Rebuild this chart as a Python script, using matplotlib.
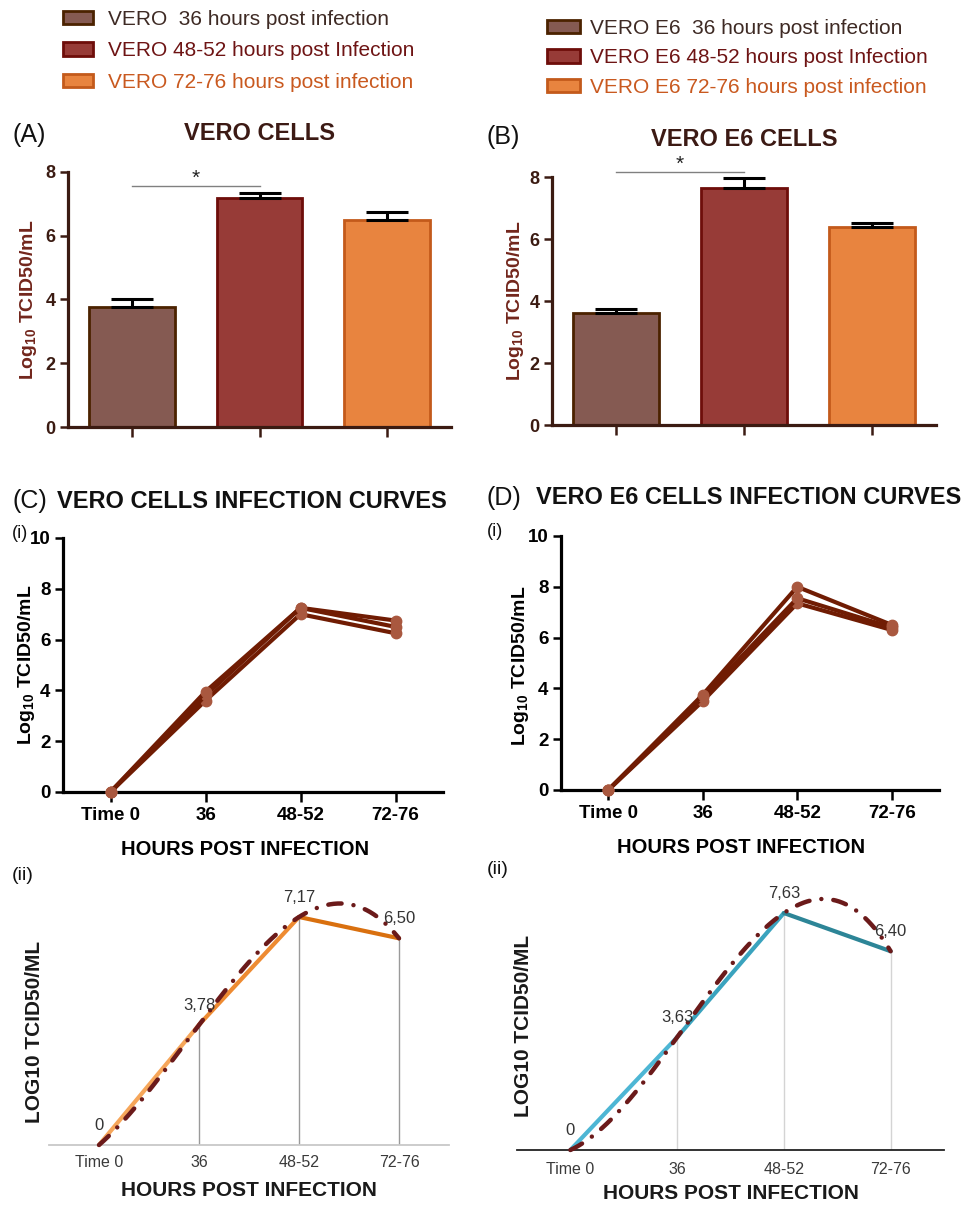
import numpy as np
import matplotlib
matplotlib.use('Agg')
import matplotlib.pyplot as plt

plt.rcParams['font.family'] = ['Liberation Sans', 'DejaVu Sans']
plt.rcParams['mathtext.fontset'] = 'custom'
plt.rcParams['mathtext.rm'] = 'Liberation Sans'
plt.rcParams['mathtext.bf'] = 'Liberation Sans:bold'

# ---------------- data ----------------
timepoints = ['Time 0', '36', '48-52', '72-76']
vero_legend = ['VERO  36 hours post infection',
               'VERO 48-52 hours post Infection',
               'VERO 72-76 hours post infection']
vero_e6_legend = ['VERO E6  36 hours post infection',
                  'VERO E6 48-52 hours post Infection',
                  'VERO E6 72-76 hours post infection']

vero_means = [3.78, 7.17, 6.50]
vero_err = [0.22, 0.16, 0.26]
vero_e6_means = [3.60, 7.63, 6.40]
vero_e6_err = [0.13, 0.35, 0.12]
vero_sig = 7.55
vero_e6_sig = 8.16

vero_rep1 = [0, 3.60, 7.00, 6.25]
vero_rep2 = [0, 3.80, 7.25, 6.50]
vero_rep3 = [0, 3.95, 7.25, 6.75]
vero_e6_rep1 = [0, 3.50, 7.35, 6.30]
vero_e6_rep2 = [0, 3.65, 7.55, 6.40]
vero_e6_rep3 = [0, 3.75, 8.00, 6.50]

vero_curve_mean = [0, 3.78, 7.17, 6.50]
vero_e6_curve_mean = [0, 3.63, 7.63, 6.40]
vero_point_labels = ['0', '3,78', '7,17', '6,50']
vero_e6_point_labels = ['0', '3,63', '7,63', '6,40']

# ---------------- style ----------------
W, H = 968, 1207
fig = plt.figure(figsize=(W / 100, H / 100), dpi=100)
fig.patch.set_facecolor('white')

bar_faces = ['#855A52', '#973B37', '#E8843F']
bar_edges = ['#4B2200', '#6E0D0A', '#C35A1B']
legend_text_colors = ['#3E2A24', '#6E1414', '#C9591F']
brown_axis = '#3B1B12'


def px_axes(left, top, right, bottom):
    return fig.add_axes([left / W, 1 - bottom / H, (right - left) / W, (bottom - top) / H])


def ftext(x, y, s, **kw):
    return fig.text(x / W, 1 - y / H, s, **kw)


# ---------------- bar panels ----------------
def bar_panel(ax, means, errs, sig, ymax, legend_labels):
    x = np.arange(len(means))
    handles = []
    for i in range(len(means)):
        b = ax.bar(x[i], means[i], width=0.67, color=bar_faces[i], edgecolor=bar_edges[i],
                   linewidth=2, zorder=2, label=legend_labels[i])
        handles.append(b)
    ax.errorbar(x, means, yerr=[np.zeros(len(errs)), errs], fmt='none', ecolor='black',
                elinewidth=2.2, capsize=15, capthick=2.2, zorder=3)
    ax.plot([0, 1], [sig, sig], color='#808080', lw=1, zorder=1)
    ax.text(0.5, sig + 0.25, '*', ha='center', va='center', fontsize=15, color='#222222')
    ax.set_xlim(-0.5, 2.5)
    ax.set_ylim(0, ymax)
    ax.set_xticks(x)
    ax.set_xticklabels([])
    ax.set_yticks([0, 2, 4, 6, 8])
    for s in ['top', 'right']:
        ax.spines[s].set_visible(False)
    for s in ['left', 'bottom']:
        ax.spines[s].set_color(brown_axis)
        ax.spines[s].set_linewidth(2.3)
    ax.spines['left'].set_bounds(0, 8)
    ax.tick_params(axis='y', length=6, width=1.8, color=brown_axis, labelsize=13,
                   labelcolor=brown_axis, pad=3)
    ax.tick_params(axis='x', length=7, width=1.8, color=brown_axis)
    for t in ax.get_yticklabels():
        t.set_fontweight('bold')
    ax.set_ylabel(r'Log$_{\mathbf{10}}$ TCID50/mL', fontsize=14, fontweight='bold', color='#72261C')
    return handles


axA = px_axes(68, 427 - 8.3 * 31.875, 451, 427)
hA = bar_panel(axA, vero_means, vero_err, vero_sig, 8.3, vero_legend)
axA.yaxis.set_label_coords(-0.102, 0.48)
axA.yaxis.label.set_va('center')

axB = px_axes(552, 425 - 8.6 * 31.0, 936, 425)
hB = bar_panel(axB, vero_e6_means, vero_e6_err, vero_e6_sig, 8.6, vero_e6_legend)
axB.yaxis.set_label_coords(-0.094, 0.465)
axB.yaxis.label.set_va('center')

legA = axA.legend(handles=hA, labels=vero_legend, loc='upper left',
                  bbox_to_anchor=(63 / W, 1 - 10 / H), bbox_transform=fig.transFigure,
                  frameon=False, fontsize=15, handlelength=1.44, handleheight=0.63,
                  handletextpad=0.72, labelspacing=0.6, borderpad=0, borderaxespad=0)
for t, c in zip(legA.get_texts(), legend_text_colors):
    t.set_color(c)

legB = axB.legend(handles=hB, labels=vero_e6_legend, loc='upper left',
                  bbox_to_anchor=(547 / W, 1 - 19 / H), bbox_transform=fig.transFigure,
                  frameon=False, fontsize=15, handlelength=1.59, handleheight=0.63,
                  handletextpad=0.48, labelspacing=0.5, borderpad=0, borderaxespad=0)
for t, c in zip(legB.get_texts(), legend_text_colors):
    t.set_color(c)

ftext(12, 135, '(A)', fontsize=18, va='center', ha='left', color='#111111')
ftext(260, 133, 'VERO CELLS', fontsize=17, fontweight='bold', va='center', ha='center', color='#3C1A14')
ftext(486, 137, '(B)', fontsize=18, va='center', ha='left', color='#111111')
ftext(744, 139, 'VERO E6 CELLS', fontsize=17, fontweight='bold', va='center', ha='center', color='#3C1A14')


# ---------------- replicate curves ----------------
def curve_panel(ax, reps):
    x = np.arange(len(timepoints))
    for r in reps:
        ax.plot(x, r, color='#701C03', lw=3, marker='o', markersize=7.5,
                markerfacecolor='#A9583F', markeredgecolor='#A9583F', clip_on=False, zorder=3)
    ax.set_xlim(-0.5, 3.5)
    ax.set_ylim(0, 10)
    ax.set_xticks(x)
    ax.set_xticklabels(timepoints)
    ax.set_yticks([0, 2, 4, 6, 8, 10])
    for s in ['top', 'right']:
        ax.spines[s].set_visible(False)
    for s in ['left', 'bottom']:
        ax.spines[s].set_color('black')
        ax.spines[s].set_linewidth(2.3)
    ax.tick_params(axis='y', length=6, width=1.8, labelsize=13.5, pad=3)
    ax.tick_params(axis='x', length=7, width=1.8, labelsize=13.5, pad=4)
    for t in ax.get_xticklabels() + ax.get_yticklabels():
        t.set_fontweight('bold')
    ax.set_ylabel(r'Log$_{\mathbf{10}}$ TCID50/mL', fontsize=14, fontweight='bold')
    ax.set_xlabel('HOURS POST INFECTION', fontsize=14.5, fontweight='bold')
    ax.yaxis.label.set_va('center')
    ax.xaxis.label.set_va('center')


axC = px_axes(63, 538, 443, 792)
curve_panel(axC, [vero_rep1, vero_rep2, vero_rep3])
axC.yaxis.set_label_coords(-0.095, 0.5)
axC.xaxis.set_label_coords(0.48, -0.228)

axD = px_axes(561, 536, 939, 790)
curve_panel(axD, [vero_e6_rep1, vero_e6_rep2, vero_e6_rep3])
axD.yaxis.set_label_coords(-0.106, 0.49)
axD.xaxis.set_label_coords(0.476, -0.228)

ftext(12, 501, '(C)', fontsize=18, va='center', ha='left', color='#111111')
ftext(57, 501, 'VERO CELLS INFECTION CURVES', fontsize=17, fontweight='bold', va='center', ha='left', color='#111111')
ftext(487, 498, '(D)', fontsize=18, va='center', ha='left', color='#111111')
ftext(536, 498, 'VERO E6 CELLS INFECTION CURVES', fontsize=17, fontweight='bold', va='center', ha='left', color='#111111')
ftext(12, 533, '(i)', fontsize=13, va='center', ha='left', color='#111111')
ftext(487, 532, '(i)', fontsize=13, va='center', ha='left', color='#111111')


# ---------------- mean curves with trendline ----------------
def mean_panel(ax, means, labels, seg_colors, base_color, drop_color, pad):
    x = np.arange(len(means))
    ax.vlines(x[1:], 0, means[1:], color=drop_color, lw=1, zorder=1)
    for i in range(len(means) - 1):
        ax.plot(x[i:i + 2], means[i:i + 2], color=seg_colors[i], lw=3,
                solid_capstyle='round', zorder=2, clip_on=False)
    coef = np.polyfit(x, means, 3)
    xs = np.linspace(0, 3, 300)
    ax.plot(xs, np.polyval(coef, xs), color='#6B1A1A', lw=3.2, dashes=[3.0, 2.7, 0.01, 2.7],
            dash_capstyle='round', zorder=3, clip_on=False)
    for xi, yi, lab in zip(x, means, labels):
        ax.annotate(lab, (xi, yi), xytext=(0, 14), textcoords='offset points',
                    ha='center', va='center', fontsize=12, color='#333333', zorder=4)
    ax.set_xlim(-0.5, 3.5)
    ax.set_ylim(0, 8.5)
    ax.set_xticks(x)
    ax.set_xticklabels(timepoints)
    ax.set_yticks([])
    for s in ['top', 'right', 'left']:
        ax.spines[s].set_visible(False)
    ax.spines['bottom'].set_color(base_color)
    ax.spines['bottom'].set_linewidth(1.3)
    ax.tick_params(axis='x', length=0, pad=pad, labelsize=11.5, labelcolor='#3a3a3a')
    ax.set_ylabel('LOG10 TCID50/ML', fontsize=15, fontweight='bold', color='#1a1a1a')
    ax.set_xlabel('HOURS POST INFECTION', fontsize=15, fontweight='bold', color='#1a1a1a')
    ax.yaxis.label.set_va('center')
    ax.xaxis.label.set_va('center')


axCii = px_axes(49, 1145 - 8.5 * 31.8, 449, 1145)
mean_panel(axCii, vero_curve_mean, vero_point_labels,
           ['#F6A65A', '#EE8B32', '#D9700F'], '#c8c8c8', '#9a9a9a', 7)
axCii.yaxis.set_label_coords(-0.035, 0.42)
axCii.xaxis.set_label_coords(0.5, -0.167)

axDii = px_axes(517, 1150 - 8.5 * 31.06, 944, 1150)
mean_panel(axDii, vero_e6_curve_mean, vero_e6_point_labels,
           ['#4DB6D4', '#3AA3BE', '#2D8597'], '#222222', '#d4d4d4', 8.5)
axDii.yaxis.set_label_coords(0.016, 0.47)
axDii.xaxis.set_label_coords(0.5, -0.163)

ftext(12, 875, '(ii)', fontsize=14, va='center', ha='left', color='#111111')
ftext(487, 870, '(ii)', fontsize=14, va='center', ha='left', color='#111111')

fig.savefig('out.png', dpi=100, facecolor='white')
